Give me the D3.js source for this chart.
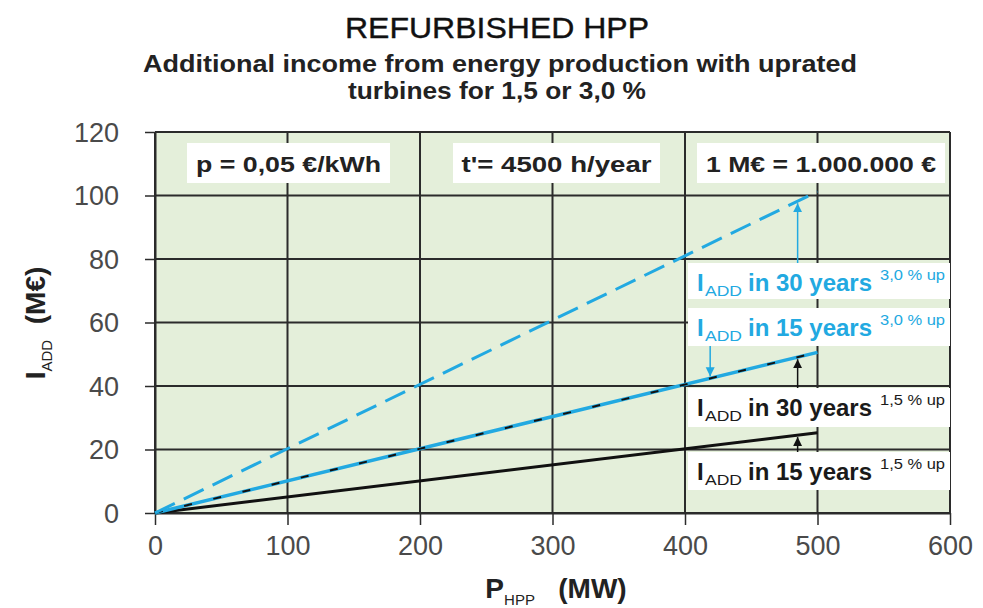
<!DOCTYPE html>
<html><head><meta charset="utf-8">
<script src="https://cdn.jsdelivr.net/npm/d3@7"></script>
<style>html,body{margin:0;padding:0;background:#fff;}svg{display:block;}</style>
</head><body>
<svg id="chart" width="983" height="608"></svg>
<script>
// ---- data ----
const powerMW = [0, 500];
const income15y15 = [0, 25.3];   // 15 years, 1.5 % up (M€)
const income30y15 = [0, 50.6];   // 30 years, 1.5 % up
const income15y30 = [0, 50.6];   // 15 years, 3.0 % up
const income30y30 = [0, 101.25]; // 30 years, 3.0 % up
const xTicks = [0, 100, 200, 300, 400, 500, 600];
const yTicks = [0, 20, 40, 60, 80, 100, 120];
const title = "REFURBISHED HPP";
const subtitle1 = "Additional income from energy production with uprated";
const subtitle2 = "turbines for 1,5 or 3,0 %";
const topNotes = ["p = 0,05 €/kWh", "t'= 4500 h/year", "1 M€ = 1.000.000 €"];

const svg = d3.select("#chart");
const W = 983, H = 608;
const m = {left:155, right:33, top:132, bottom:95};
const x = d3.scaleLinear().domain([0, 600]).range([m.left, W - m.right]);
const y = d3.scaleLinear().domain([0, 120]).range([H - m.bottom, m.top]);

const blue = "#22a9e1";
const gridC = "#2b2b2b";
const font = "'Liberation Sans', Arial, sans-serif";

function fitText(sel, len) {
  return sel.attr("textLength", len).attr("lengthAdjust", "spacingAndGlyphs");
}

// titles
fitText(svg.append("text").attr("x", 497).attr("y", 38).attr("text-anchor","middle")
  .attr("font-family", font).attr("font-size", 30).attr("fill","#111").attr("stroke","#111").attr("stroke-width",0.4)
  .text(title), 304);
fitText(svg.append("text").attr("x", 500).attr("y", 72).attr("text-anchor","middle")
  .attr("font-family", font).attr("font-weight","bold").attr("font-size", 24).attr("fill","#222")
  .text(subtitle1), 714);
fitText(svg.append("text").attr("x", 497).attr("y", 99).attr("text-anchor","middle")
  .attr("font-family", font).attr("font-weight","bold").attr("font-size", 24).attr("fill","#222")
  .text(subtitle2), 298);

// plot background
svg.append("rect").attr("x", x(0)).attr("y", y(120)).attr("width", x(600)-x(0)).attr("height", y(0)-y(120))
  .attr("fill", "#e4efda");

// grid
const g = svg.append("g");
g.selectAll("line.h").data(yTicks).join("line")
  .attr("x1", x(0)).attr("x2", x(600)).attr("y1", d=>y(d)).attr("y2", d=>y(d))
  .attr("stroke", gridC).attr("stroke-width", 2);
g.selectAll("line.v").data(xTicks).join("line")
  .attr("y1", y(0)).attr("y2", y(120)).attr("x1", d=>x(d)).attr("x2", d=>x(d))
  .attr("stroke", gridC).attr("stroke-width", 2);

// axes
const xAxis = d3.axisBottom(x).tickValues(xTicks).tickSize(12).tickSizeOuter(0).tickPadding(6);
const yAxis = d3.axisLeft(y).tickValues(yTicks).tickSize(10).tickSizeOuter(0).tickPadding(26);
const gx = svg.append("g").attr("transform", `translate(0,${y(0)})`).call(xAxis);
const gy = svg.append("g").attr("transform", `translate(${x(0)},0)`).call(yAxis);
[gx, gy].forEach(a => {
  a.select(".domain").attr("stroke", gridC).attr("stroke-width", 2);
  a.selectAll(".tick line").attr("stroke", gridC).attr("stroke-width", 1.5);
  a.selectAll(".tick text").attr("font-family", font).attr("font-size", 27).attr("fill", "#4a4a4a");
});
gx.selectAll(".tick text").attr("dy", "0.9em");
gy.selectAll(".tick text").attr("dy", "0.35em");

// top notes
const noteBoxes = [[187, 390, 185], [453, 660, 190], [697, 945, 230]];
topNotes.forEach((t, i) => {
  const [a, b, len] = noteBoxes[i];
  svg.append("rect").attr("x", a).attr("y", 143).attr("width", b - a).attr("height", 40).attr("fill", "#fff");
  fitText(svg.append("text").attr("x", (a + b) / 2).attr("y", 172).attr("text-anchor", "middle")
    .attr("font-family", font).attr("font-weight", "bold").attr("font-size", 22).attr("fill", "#222")
    .text(t), len);
});

// right label boxes
const labels = [
  {y0: 263, y1: 299, yrs: "30", pct: "3,0 % up", c: blue},
  {y0: 308, y1: 346, yrs: "15", pct: "3,0 % up", c: blue},
  {y0: 388, y1: 427, yrs: "30", pct: "1,5 % up", c: "#1a1a1a"},
  {y0: 452, y1: 490, yrs: "15", pct: "1,5 % up", c: "#1a1a1a"}
];
labels.forEach(l => {
  svg.append("rect").attr("x", 688).attr("y", l.y0).attr("width", 262).attr("height", l.y1 - l.y0).attr("fill", "#fff");
  const base = l.y0 + 28;
  svg.append("text").attr("x", 697).attr("y", base)
    .attr("font-family", font).attr("font-weight", "bold").attr("font-size", 24).attr("fill", l.c).text("I");
  fitText(svg.append("text").attr("x", 705).attr("y", base + 5)
    .attr("font-family", font).attr("font-size", 15).attr("fill", l.c).text("ADD"), 37);
  fitText(svg.append("text").attr("x", 748).attr("y", base)
    .attr("font-family", font).attr("font-weight", "bold").attr("font-size", 24).attr("fill", l.c)
    .text("in " + l.yrs + " years"), 124);
  fitText(svg.append("text").attr("x", 880).attr("y", base - 11)
    .attr("font-family", font).attr("font-size", 14).attr("fill", l.c).text(l.pct), 65);
});

// lines
const line = d3.line().x(d => x(d[0])).y(d => y(d[1]));
const pairs = arr => powerMW.map((p, i) => [p, arr[i]]);
svg.append("path").datum(pairs(income15y15)).attr("d", line).attr("fill","none").attr("stroke","#111").attr("stroke-width",3);
svg.append("path").datum(pairs(income15y30)).attr("d", line).attr("fill","none").attr("stroke",blue).attr("stroke-width",3.5);
svg.append("path").datum(pairs(income30y15)).attr("d", line).attr("fill","none").attr("stroke","#111").attr("stroke-width",2)
  .attr("stroke-dasharray","8,22");
svg.append("path").datum(pairs(income30y30)).attr("d", line).attr("fill","none").attr("stroke",blue).attr("stroke-width",3)
  .attr("stroke-dasharray","22,10");

// arrows
const defs = svg.append("defs");
[["ab", blue], ["ak", "#111"]].forEach(([id, c]) => {
  defs.append("marker").attr("id", id).attr("viewBox","0 0 10 10").attr("refX",10).attr("refY",5)
    .attr("markerWidth",6).attr("markerHeight",8).attr("orient","auto-start-reverse")
    .append("path").attr("d","M0,0 L10,5 L0,10 z").attr("fill", c);
});
const lerp = (arr, p) => arr[0] + (arr[1] - arr[0]) * p / powerMW[1];
const arrowP = 485;
const arrows = [
  {p: arrowP, from: 263, to: y(lerp(income30y30, arrowP)) + 2, c: blue, m: "ab"},
  {p: 419, from: 346, to: y(lerp(income15y30, 419)) - 2, c: blue, m: "ab"},
  {p: arrowP, from: 388, to: y(lerp(income30y15, arrowP)) + 2, c: "#111", m: "ak"},
  {p: arrowP, from: 452, to: y(lerp(income15y15, arrowP)) + 2, c: "#111", m: "ak"}
];
arrows.forEach(a => {
  svg.append("line").attr("x1", x(a.p)).attr("x2", x(a.p)).attr("y1", a.from).attr("y2", a.to)
    .attr("stroke", a.c).attr("stroke-width", 1.5).attr("marker-end", `url(#${a.m})`);
});

// axis titles
const xt = svg.append("text").attr("x", 556).attr("y", 598).attr("text-anchor","middle")
  .attr("font-family", font).attr("font-weight","bold").attr("font-size", 28).attr("fill","#222");
xt.append("tspan").text("P");
xt.append("tspan").attr("font-size", 15).attr("font-weight","normal").attr("dy", 7).text("HPP");
xt.append("tspan").attr("dy", -7).attr("xml:space","preserve").text("\u00a0\u00a0 (MW)");

const yt = svg.append("text").attr("transform", "translate(45,323) rotate(-90)").attr("text-anchor","middle")
  .attr("font-family", font).attr("font-weight","bold").attr("font-size", 28).attr("fill","#222");
yt.append("tspan").text("I");
yt.append("tspan").attr("font-size", 15).attr("font-weight","normal").attr("dy", 7).text("ADD");
yt.append("tspan").attr("dy", -7).text("\u00a0\u00a0(M€)");
</script>
</body></html>
